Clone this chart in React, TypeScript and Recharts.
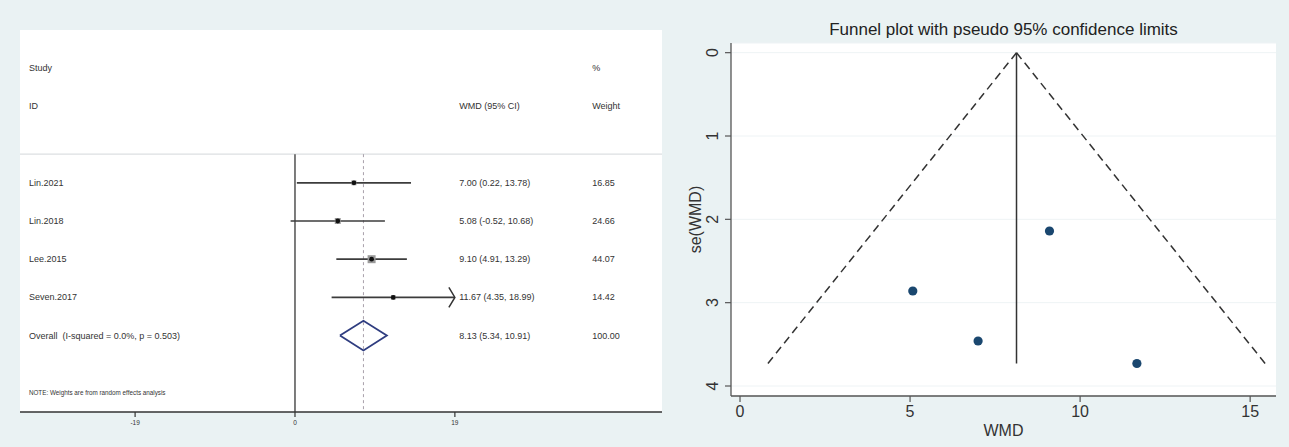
import React from 'react';
import { ScatterChart, Scatter, XAxis, YAxis, CartesianGrid, ReferenceLine, Label } from 'recharts';

// forest plot rows
const studies = ['Lin.2021', 'Lin.2018', 'Lee.2015', 'Seven.2017'];
const wmd = [7.0, 5.08, 9.1, 11.67];
const ciLower = [0.22, -0.52, 4.91, 4.35];
const ciUpper = [13.78, 10.68, 13.29, 18.99];
const weights = [16.85, 24.66, 44.07, 14.42];

const overallLabel = 'Overall  (I-squared = 0.0%, p = 0.503)';
const overallEst = 8.13;
const overallCi = [5.34, 10.91];
const overallWeight = 100.0;
const noteText = 'NOTE: Weights are from random effects analysis';

// funnel plot
const seWmd = [3.46, 2.86, 2.14, 3.73];
const funnelSe = [0, 3.73];
const funnelLeft = [8.13, 0.82];
const funnelRight = [8.13, 15.44];
const funnelXTicks = [0, 5, 10, 15];
const funnelYTicks = [0, 1, 2, 3, 4];

const FONT = '"Liberation Sans", Arial, sans-serif';
const INK = '#333';

const none = () => <g />;

const textShape = (size: number) => (p: any) => (
  <text x={p.cx} y={p.cy} fontSize={size} fill={INK} dominantBaseline="central" fontFamily={FONT}
    style={{ whiteSpace: 'pre' }}>
    {p.payload.t}
  </text>
);

const RotTick = (props: any) => {
  const { x, y, payload } = props;
  return (
    <text x={x} y={y} dy="0.35em" textAnchor="middle" fontSize={16} fill={INK} fontFamily={FONT}
      transform={`rotate(-90 ${x} ${y})`}>
      {payload.value}
    </text>
  );
};

function ForestPlot() {
  const limit = Math.max(...ciUpper.map(Math.abs), ...ciLower.map(Math.abs));
  const ticks = [-limit, 0, limit];
  const maxW = Math.max(...weights);
  const oRow = studies.length;

  // column positions (data units)
  const colStudy = -31.6;
  const colCi = 19.5;
  const colWeight = 35.3;
  const sepY = -0.75;

  const fmtCi = (e: number, l: number, h: number) => `${e.toFixed(2)} (${l.toFixed(2)}, ${h.toFixed(2)})`;

  const studyText = [
    { x: colStudy, y: -3, t: 'Study' },
    { x: colStudy, y: -2, t: 'ID' },
    ...studies.map((s, i) => ({ x: colStudy, y: i, t: s })),
    { x: colStudy, y: oRow, t: overallLabel },
  ];
  const ciText = [
    { x: colCi, y: -2, t: 'WMD (95% CI)' },
    ...studies.map((_, i) => ({ x: colCi, y: i, t: fmtCi(wmd[i], ciLower[i], ciUpper[i]) })),
    { x: colCi, y: oRow, t: fmtCi(overallEst, overallCi[0], overallCi[1]) },
  ];
  const weightText = [
    { x: colWeight, y: -3, t: '%' },
    { x: colWeight, y: -2, t: 'Weight' },
    ...weights.map((w, i) => ({ x: colWeight, y: i, t: w.toFixed(2) })),
    { x: colWeight, y: oRow, t: overallWeight.toFixed(2) },
  ];
  const note = [{ x: colStudy, y: 5.5, t: noteText }];

  const boxes = studies.map((_, i) => ({ x: wmd[i], y: i, w: weights[i] }));
  const arrows = studies
    .map((_, i) => ({ x: limit, y: i, hit: ciUpper[i] >= limit }))
    .filter((d) => d.hit);
  const dh = 0.39;
  const diamond = [
    { x: overallCi[0], y: oRow },
    { x: overallEst, y: oRow - dh },
    { x: overallCi[1], y: oRow },
    { x: overallEst, y: oRow + dh },
    { x: overallCi[0], y: oRow },
  ];

  return (
    <ScatterChart width={662} height={447} margin={{ top: 30, right: 0, bottom: 0, left: 20 }}>
      <CartesianGrid fill="#fff" horizontal={false} vertical={false} stroke="none" />
      <XAxis type="number" dataKey="x" domain={[-32.66, 43.59]} allowDataOverflow ticks={ticks} interval={0}
        tickFormatter={(v: number) => String(Math.round(v))} height={35} tickSize={5} tickMargin={3}
        axisLine={{ stroke: INK, strokeWidth: 1.5 }} tickLine={{ stroke: INK, strokeWidth: 1.2 }}
        tick={{ fontSize: 6.5, fill: INK, fontFamily: FONT }} />
      <YAxis type="number" dataKey="y" domain={[-4, 6]} reversed allowDataOverflow hide />
      <ReferenceLine y={sepY} stroke="#dcdfe2" strokeWidth={1.2} />
      <ReferenceLine segment={[{ x: 0, y: sepY }, { x: 0, y: 6 }]} stroke="#444" strokeWidth={1.4} />
      <ReferenceLine segment={[{ x: overallEst, y: sepY }, { x: overallEst, y: 6 }]} stroke="#a8a0aa"
        strokeWidth={1} strokeDasharray="3 3" />
      {studies.map((_, i) => (
        <Scatter key={i} data={[{ x: ciLower[i], y: i }, { x: ciUpper[i], y: i }]} isAnimationActive={false}
          line={{ stroke: '#3c3c3c', strokeWidth: 1.7 }} shape={none} />
      ))}
      <Scatter data={boxes} isAnimationActive={false} shape={(p: any) => {
        const s = 8 * Math.sqrt(p.payload.w / maxW);
        return <rect x={p.cx - s / 2} y={p.cy - s / 2} width={s} height={s} fill="#9a9a9a" />;
      }} />
      <Scatter data={boxes} isAnimationActive={false} shape={(p: any) => <circle cx={p.cx} cy={p.cy} r={2.4} fill="#111" />} />
      <Scatter data={arrows} isAnimationActive={false} shape={(p: any) => (
        <path d={`M${p.cx - 6} ${p.cy - 10} L${p.cx} ${p.cy} L${p.cx - 6} ${p.cy + 10}`} fill="none" stroke="#333" strokeWidth={1.5} />
      )} />
      <Scatter data={diamond} isAnimationActive={false} line={{ stroke: '#2f3d80', strokeWidth: 1.8 }} shape={none} />
      <Scatter data={studyText} isAnimationActive={false} shape={textShape(9)} />
      <Scatter data={ciText} isAnimationActive={false} shape={textShape(9)} />
      <Scatter data={weightText} isAnimationActive={false} shape={textShape(9)} />
      <Scatter data={note} isAnimationActive={false} shape={textShape(6.3)} />
    </ScatterChart>
  );
}

function FunnelPlot() {
  const points = wmd.map((w, i) => ({ x: w, y: seWmd[i] }));
  const left = funnelSe.map((s, i) => ({ x: funnelLeft[i], y: s }));
  const right = funnelSe.map((s, i) => ({ x: funnelRight[i], y: s }));
  const pooled = funnelSe.map((s) => ({ x: overallEst, y: s }));
  return (
    <div style={{ position: 'relative' }}>
      <div style={{ position: 'absolute', left: 71, top: 20, width: 545, textAlign: 'center', fontSize: 17,
        lineHeight: '20px', color: '#222', fontFamily: FONT, zIndex: 2 }}>
        Funnel plot with pseudo 95% confidence limits
      </div>
      <ScatterChart width={629} height={447} margin={{ top: 43, right: 13, bottom: 0, left: 0 }}>
        <CartesianGrid fill="#fff" vertical={false} stroke="#eef3f5" />
        <XAxis type="number" dataKey="x" domain={[-0.265, 15.76]} allowDataOverflow ticks={funnelXTicks}
          interval={0} height={51} tickSize={6} tickMargin={4}
          axisLine={{ stroke: '#555', strokeWidth: 1.3 }} tickLine={{ stroke: '#555', strokeWidth: 1.2 }}
          tick={{ fontSize: 16, fill: INK, fontFamily: FONT }}>
          <Label value="WMD" position="insideBottom" offset={11} style={{ fontSize: 16, fill: INK, fontFamily: FONT }} />
        </XAxis>
        <YAxis type="number" dataKey="y" domain={[-0.116, 4.12]} reversed allowDataOverflow ticks={funnelYTicks}
          interval={0} width={71} tickSize={6} tickMargin={13} tick={<RotTick />}
          axisLine={{ stroke: '#555', strokeWidth: 1.3 }} tickLine={{ stroke: '#555', strokeWidth: 1.2 }}>
          <Label value="se(WMD)" angle={-90} position="center" style={{ fontSize: 16, fill: INK, fontFamily: FONT }} />
        </YAxis>
        <Scatter data={left} isAnimationActive={false} shape={none}
          line={{ stroke: '#333', strokeWidth: 1.5, strokeDasharray: '8 5' }} />
        <Scatter data={right} isAnimationActive={false} shape={none}
          line={{ stroke: '#333', strokeWidth: 1.5, strokeDasharray: '8 5' }} />
        <Scatter data={pooled} isAnimationActive={false} shape={none} line={{ stroke: '#333', strokeWidth: 1.5 }} />
        <Scatter data={points} isAnimationActive={false}
          shape={(p: any) => <circle cx={p.cx} cy={p.cy} r={4.6} fill="#1a476f" />} />
      </ScatterChart>
    </div>
  );
}

export default function App() {
  return (
    <div style={{ position: 'absolute', left: 0, top: 0, width: 1289, height: 447, background: '#eaf2f3',
      overflow: 'hidden', fontFamily: FONT }}>
      <div style={{ position: 'absolute', left: 0, top: 0 }}>
        <ForestPlot />
      </div>
      <div style={{ position: 'absolute', left: 660, top: 0 }}>
        <FunnelPlot />
      </div>
    </div>
  );
}
